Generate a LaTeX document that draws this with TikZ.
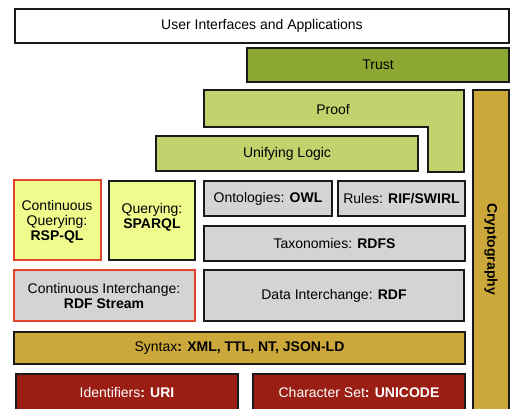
\documentclass[tikz,border=0pt]{standalone}
\usepackage{fontspec}
\setmainfont{Liberation Sans}
\usetikzlibrary{fit}
\definecolor{edge}{HTML}{1A1A1A}
\definecolor{trustc}{HTML}{8DA832}
\definecolor{logicc}{HTML}{C2D36E}
\definecolor{goldc}{HTML}{CCA83A}
\definecolor{yellowc}{HTML}{EEFC8E}
\definecolor{grayc}{HTML}{D4D4D4}
\definecolor{redc}{HTML}{E1452B}
\definecolor{darkred}{HTML}{9A1E14}
\begin{document}
\begin{tikzpicture}[x=1pt,y=-1pt,
  box/.style={draw=edge, line width=2.6pt, inner sep=0pt},
  redbox/.style={box, draw=redc},
  lbl/.style={inner sep=0pt, align=center, font=\fontsize{14}{15}\selectfont}]
\useasboundingbox (0,0) rectangle (515,408);
\clip (0,0) rectangle (515,408);
\fill[white] (0,0) rectangle (515,408);
% top
\node[box, fill=white, fit={(15,9) (509,43)}] (ui) {};
\node[lbl] (uit) at (ui.center) {User Interfaces and Applications};
\node[box, fill=trustc, fit={(247,48) (509,82)}] (trust) {};
\node[lbl] (trustt) at (trust.center) {Trust};
% proof L-shape
\draw[draw=edge, line width=2.6pt, fill=logicc] (204,90) -- (464,90) -- (464,172) -- (428,172) -- (428,127) -- (204,127) -- cycle;
\node[lbl] (proof) at (333,109) {Proof};
\node[box, fill=logicc, fit={(156,136) (418,171)}] (logic) {};
\node[lbl] (logict) at (logic.center) {Unifying Logic};
% cryptography
\node[box, fill=goldc, fit={(473,90) (509,412)}] (crypto) {};
\node[lbl, rotate=-90, font=\fontsize{14}{15}\selectfont\bfseries] (cryptotxt) at (491,249) {Cryptography};
% middle
\node[redbox, fill=yellowc, fit={(14,180) (101,260)}] (cq) {};
\node[lbl] (cqt) at (57,222) {Continuous\\Querying:\\\textbf{RSP-QL}};
\node[box, fill=yellowc, fit={(109,181) (195,260)}] (sparql) {};
\node[lbl] (sparqlt) at (152,217) {Querying:\\\textbf{SPARQL}};
\node[box, fill=grayc, fit={(204,181) (332,216)}] (owl) {};
\node[lbl] (owlt) at (owl.center) {Ontologies: \textbf{OWL}};
\node[box, fill=grayc, fit={(338,181) (465,216)}] (rules) {};
\node[lbl] (rulest) at (rules.center) {Rules: \textbf{RIF/SWIRL}};
\node[box, fill=grayc, fit={(204,226) (465,261)}] (rdfs) {};
\node[lbl] (rdfst) at (rdfs.center) {Taxonomies: \textbf{RDFS}};
\node[redbox, fill=grayc, fit={(14,270) (195,321)}] (stream) {};
\node[lbl] (streamt) at (104,296) {Continuous Interchange:\\\textbf{RDF Stream}};
\node[box, fill=grayc, fit={(204,270) (464,321)}] (rdf) {};
\node[lbl] (rdft) at (rdf.center) {Data Interchange: \textbf{RDF}};
\node[box, fill=goldc, fit={(14,332) (465,364)}] (syntax) {};
\node[lbl] (syntaxt) at (syntax.center) {Syntax\textbf{: XML, TTL, NT, JSON-LD}};
\node[box, fill=darkred, fit={(16,374) (238,411)}] (uri) {};
\node[lbl, text=white] (urit) at (127,392) {Identifiers\textbf{: URI}};
\node[box, fill=darkred, fit={(253,374) (465,411)}] (unicode) {};
\node[lbl, text=white] (unicodet) at (359,392) {Character Set\textbf{: UNICODE}};
\end{tikzpicture}
\end{document}
